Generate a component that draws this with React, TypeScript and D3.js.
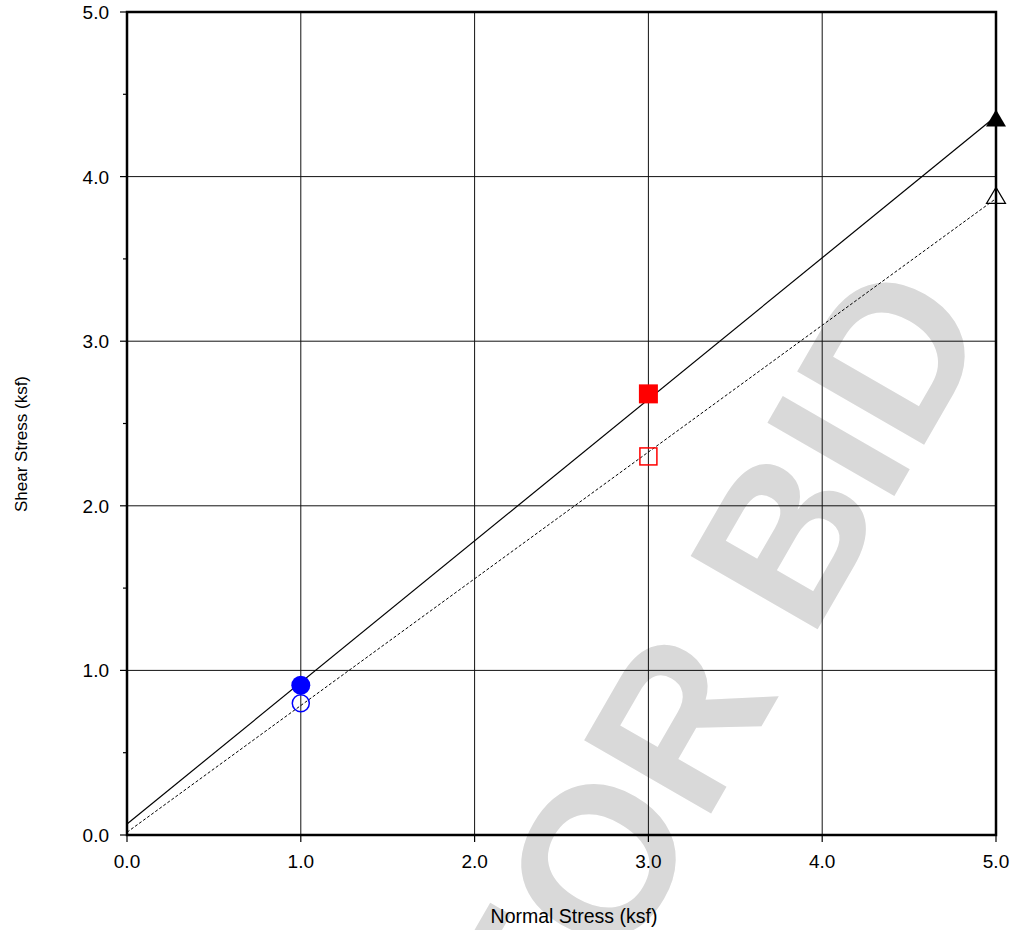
import React from "react";
import * as d3 from "d3";

const normalStress = [1.0, 3.0, 5.0];
const peakShear = [0.91, 2.68, 4.35];
const residualShear = [0.8, 2.3, 3.88];
const markerColors = ["#0000ff", "#ff0000", "#000000"];
const markerShapes = ["circle", "square", "triangle"];
const xTicks = [0, 1, 2, 3, 4, 5];
const yTicks = [0, 1, 2, 3, 4, 5];
const yMinorTicks = [0.5, 1.5, 2.5, 3.5, 4.5];
const xTitle = "Normal Stress (ksf)";
const yTitle = "Shear Stress (ksf)";
const watermark = "FOR BID";

const W = 1015;
const H = 930;
const M = { left: 127, right: 996, top: 12, bottom: 835 };

function fit(xs: number[], ys: number[]) {
  const mx = d3.mean(xs)!;
  const my = d3.mean(ys)!;
  let num = 0;
  let den = 0;
  xs.forEach((x, i) => {
    num += (x - mx) * (ys[i] - my);
    den += (x - mx) * (x - mx);
  });
  const slope = num / den;
  return { slope, intercept: my - slope * mx };
}

export default function App() {
  const x = d3.scaleLinear().domain([0, 5]).range([M.left, M.right]);
  const y = d3.scaleLinear().domain([0, 5]).range([M.bottom, M.top]);
  const font = "Arial, 'Liberation Sans', Helvetica, sans-serif";

  const peakFit = fit(normalStress, peakShear);
  const resFit = fit(normalStress, residualShear);
  const peakLine = d3
    .line<number>()
    .x((d) => x(d))
    .y((d) => y(peakFit.intercept + peakFit.slope * d));
  const resLine = d3
    .line<number>()
    .x((d) => x(d))
    .y((d) => y(resFit.intercept + resFit.slope * d));

  const marker = (shape: string, cx: number, cy: number, color: string, filled: boolean, key: string) => {
    if (shape === "circle") {
      return filled ? (
        <circle key={key} cx={cx} cy={cy} r={9.5} fill={color} />
      ) : (
        <circle key={key} cx={cx} cy={cy} r={8.5} fill="none" stroke={color} strokeWidth={1.5} />
      );
    }
    if (shape === "square") {
      return filled ? (
        <rect key={key} x={cx - 9.5} y={cy - 9.5} width={19} height={19} fill={color} />
      ) : (
        <rect key={key} x={cx - 8.5} y={cy - 8.5} width={17} height={17} fill="none" stroke={color} strokeWidth={1.5} />
      );
    }
    const p = filled
      ? `M${cx},${cy - 9.5} L${cx + 10},${cy + 7.5} L${cx - 10},${cy + 7.5} Z`
      : `M${cx},${cy - 9} L${cx + 9.5},${cy + 7} L${cx - 9.5},${cy + 7} Z`;
    return filled ? (
      <path key={key} d={p} fill={color} />
    ) : (
      <path key={key} d={p} fill="none" stroke={color} strokeWidth={1.2} />
    );
  };

  return (
    <svg
      width={W}
      height={H}
      style={{ position: "fixed", left: 0, top: 0, background: "#fff" }}
      fontFamily={font}
    >
      <rect x={0} y={0} width={W} height={H} fill="#fff" />
      {/* watermark */}
      <text
        transform="translate(556,1082) rotate(-60)"
        fontFamily="'Liberation Sans', Arial, sans-serif"
        fontWeight="bold"
        fontSize={213}
        fill="#d9d9d9"
      >
        {watermark}
      </text>

      {/* grid */}
      {xTicks.slice(1, -1).map((t) => (
        <line key={"gx" + t} x1={x(t)} x2={x(t)} y1={M.top} y2={M.bottom} stroke="#111" strokeWidth={1} />
      ))}
      {yTicks.slice(1, -1).map((t) => (
        <line key={"gy" + t} x1={M.left} x2={M.right} y1={y(t)} y2={y(t)} stroke="#111" strokeWidth={1} />
      ))}

      {/* fit lines */}
      <path d={peakLine([0, 5]) || ""} stroke="#000" strokeWidth={1.2} fill="none" />
      <path d={resLine([0, 5]) || ""} stroke="#000" strokeWidth={1} strokeDasharray="3,2" fill="none" />

      {/* frame */}
      <rect x={M.left} y={M.top} width={M.right - M.left} height={M.bottom - M.top} fill="none" stroke="#000" strokeWidth={2.5} />

      {/* ticks */}
      {xTicks.map((t) => (
        <line key={"tx" + t} x1={x(t)} x2={x(t)} y1={M.bottom} y2={M.bottom + 7} stroke="#000" strokeWidth={1.2} />
      ))}
      {yTicks.map((t) => (
        <line key={"ty" + t} x1={M.left - 7} x2={M.left} y1={y(t)} y2={y(t)} stroke="#000" strokeWidth={1.2} />
      ))}
      {yMinorTicks.map((t) => (
        <line key={"tm" + t} x1={M.left - 4} x2={M.left} y1={y(t)} y2={y(t)} stroke="#000" strokeWidth={1.2} />
      ))}

      {/* tick labels */}
      {xTicks.map((t) => (
        <text key={"lx" + t} x={x(t)} y={868} textAnchor="middle" fontSize={19} fill="#000">
          {d3.format(".1f")(t)}
        </text>
      ))}
      {yTicks.map((t) => (
        <text key={"ly" + t} x={109} y={y(t) + 7} textAnchor="end" fontSize={19} fill="#000">
          {d3.format(".1f")(t)}
        </text>
      ))}

      {/* markers */}
      {normalStress.map((v, i) => marker(markerShapes[i], x(v), y(residualShear[i]), markerColors[i], false, "r" + i))}
      {normalStress.map((v, i) => marker(markerShapes[i], x(v), y(peakShear[i]), markerColors[i], true, "p" + i))}

      {/* axis titles */}
      <text x={574} y={923} textAnchor="middle" fontSize={19.5} fill="#000">
        {xTitle}
      </text>
      <text transform="translate(27,444) rotate(-90)" textAnchor="middle" fontSize={17} fill="#000">
        {yTitle}
      </text>
    </svg>
  );
}
